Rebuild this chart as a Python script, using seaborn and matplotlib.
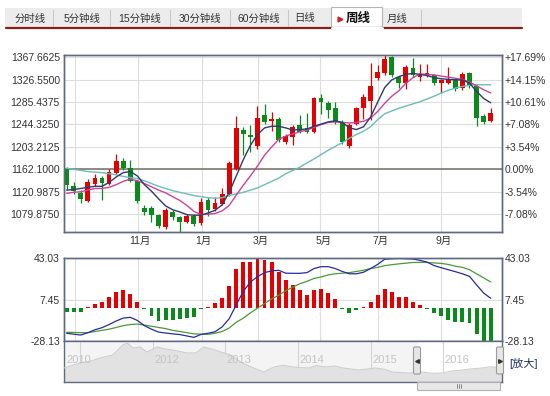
import numpy as np
import pandas as pd
import matplotlib.pyplot as plt
import matplotlib.patches as mpatches
import seaborn as sns

# weekly candles (index 0..60)
opens = [1162, 1131, 1119, 1104, 1136, 1147, 1135, 1156, 1178, 1164, 1141, 1091, 1091, 1078, 1057, 1084,
         1075, 1066, 1077, 1063, 1106, 1089, 1099, 1117, 1163, 1234, 1225, 1204, 1262, 1251, 1254, 1213,
         1221, 1243, 1237, 1231, 1292, 1284, 1274, 1249, 1204, 1246, 1274, 1288, 1329, 1338, 1368, 1332,
         1320, 1347, 1332, 1334, 1335, 1320, 1321, 1327, 1311, 1338, 1314, 1259, 1251]
closes = [1133, 1123, 1108, 1139, 1147, 1137, 1158, 1178, 1164, 1141, 1104, 1083, 1078, 1058, 1088, 1075,
          1066, 1077, 1062, 1103, 1088, 1100, 1117, 1174, 1237, 1227, 1221, 1256, 1249, 1254, 1215, 1223,
          1240, 1231, 1231, 1292, 1286, 1271, 1248, 1213, 1243, 1274, 1295, 1315, 1341, 1364, 1335, 1321,
          1349, 1335, 1337, 1339, 1320, 1325, 1327, 1309, 1337, 1315, 1256, 1249, 1265]
highs = [1166, 1138, 1124, 1145, 1154, 1150, 1162, 1190, 1182, 1180, 1143, 1096, 1094, 1081, 1092, 1088,
         1077, 1080, 1080, 1110, 1112, 1111, 1128, 1177, 1260, 1240, 1244, 1278, 1282, 1268, 1258, 1226,
         1244, 1262, 1265, 1294, 1301, 1287, 1285, 1252, 1247, 1277, 1300, 1357, 1354, 1371, 1370, 1334,
         1353, 1367, 1355, 1356, 1337, 1327, 1350, 1330, 1341, 1341, 1316, 1264, 1274]
lows = [1125, 1117, 1100, 1102, 1132, 1106, 1133, 1154, 1160, 1139, 1100, 1078, 1066, 1054, 1052, 1070,
        1048, 1064, 1058, 1060, 1077, 1085, 1096, 1114, 1160, 1189, 1193, 1200, 1246, 1232, 1212, 1208,
        1207, 1228, 1228, 1228, 1263, 1256, 1245, 1208, 1201, 1243, 1255, 1252, 1325, 1335, 1331, 1312,
        1310, 1332, 1324, 1331, 1317, 1302, 1318, 1306, 1307, 1312, 1241, 1246, 1249]
ma5 = [1124, 1125, 1127, 1129, 1131, 1131, 1138, 1148, 1156, 1158, 1150, 1134, 1122, 1108, 1095, 1088,
       1084, 1079, 1078, 1078, 1082, 1087, 1097, 1120, 1150, 1180, 1206, 1226, 1238, 1241, 1241, 1238,
       1234, 1235, 1236, 1241, 1245, 1249, 1251, 1248, 1238, 1235, 1240, 1258, 1285, 1312, 1326, 1332,
       1336, 1338, 1336, 1334, 1330, 1328, 1327, 1326, 1326, 1320, 1305, 1292, 1284]
ma10 = [1118, 1120, 1121, 1124, 1127, 1127, 1129, 1134, 1140, 1144, 1141, 1136, 1130, 1124, 1119, 1112,
        1105, 1096, 1085, 1079, 1080, 1081, 1086, 1096, 1115, 1133, 1150, 1168, 1188, 1203, 1217, 1223,
        1227, 1231, 1234, 1239, 1244, 1248, 1249, 1248, 1247, 1248, 1250, 1256, 1268, 1283, 1296, 1306,
        1320, 1330, 1337, 1336, 1335, 1333, 1331, 1329, 1327, 1322, 1315, 1308, 1302]
ma20 = [1164, 1162, 1160, 1158, 1157, 1156, 1154, 1152, 1149, 1147, 1145, 1141, 1136, 1131, 1127, 1123,
        1120, 1117, 1114, 1112, 1110, 1109, 1110, 1114, 1117, 1120, 1124, 1128, 1134, 1140, 1146, 1154,
        1160, 1166, 1174, 1181, 1189, 1197, 1204, 1211, 1219, 1226, 1232, 1240, 1253, 1264, 1269, 1274,
        1278, 1282, 1286, 1291, 1296, 1302, 1307, 1311, 1314, 1316, 1317, 1317, 1317]

# MACD panel
macd = [-3.4, -3.4, -3.4, 0.6, 3.4, 5.7, 10, 14.3, 15.2, 12, 5.7, -0.8, -6.3, -10.9, -10, -10,
        -9.4, -8.6, -7.7, -0.8, 0.8, 4.3, 9.1, 18.6, 33.4, 39.4, 40, 42.8, 41.4, 39.4, 30.9, 24.3,
        20, 15.7, 11.4, 15.7, 16.4, 13.4, 7.7, -1, -4.3, -1.5, 1, 5.1, 11.4, 16.3, 13.7, 10,
        9.4, 5.7, 2.9, -0.5, -4.3, -7.1, -10, -12, -12, -12.8, -21.9, -27.9, -27.9]
dif = [-21.5, -22.3, -23, -21, -18.5, -16.7, -14, -11, -8.5, -7.8, -10.5, -15, -18, -20.5, -21.3, -22,
       -22.6, -23.8, -25, -22.5, -21.5, -20.2, -16, -9, 3, 14.5, 22.5, 27, 30.5, 32, 32.5, 30,
       29.9, 29.9, 30.5, 34, 35.6, 35.6, 34, 31.5, 29.5, 29.5, 30.8, 34, 37.5, 42, 42.4, 42.6,
       42.4, 42.2, 41, 39.5, 36.5, 34.7, 33, 31.3, 29.5, 27.3, 20, 13, 8.5]
dea = [-20.7, -20.8, -21, -21, -20, -19, -18, -16.5, -15, -14, -13.6, -14.5, -15.5, -16.5, -17.5, -19,
       -20, -21, -22, -22.3, -22.4, -21.5, -20, -17, -12, -8.5, -4, 0, 4, 8, 11, 15,
       18, 21, 23, 25.5, 26.8, 28.5, 29.5, 30, 30.5, 31.5, 32.5, 34, 35, 36.5, 37.3, 38,
       38.6, 39.2, 39.3, 39.2, 38.8, 38.4, 37.5, 36, 35, 33, 29.5, 26, 22.5]

price_ticks = [1367.6625, 1326.55, 1285.4375, 1244.325, 1203.2125, 1162.1, 1120.9875, 1079.875]
pct_labels = ['+17.69%', '+14.15%', '+10.61%', '+7.08%', '+3.54%', '0.00%', '-3.54%', '-7.08%']
month_idx = [10, 19, 27, 36, 44, 53]
month_labels = ['11月', '1月', '3月', '5月', '7月', '9月']
grid_idx = [1.2, 10.1, 19.1, 27.1, 35.9, 44.1, 53]
macd_ticks = [43.03, 7.45, -28.13]

# navigator (year, price)
nav_year = [2010.78, 2011.0, 2011.15, 2011.28, 2011.45, 2011.59, 2011.65, 2011.73, 2011.83, 2011.92,
            2012.06, 2012.18, 2012.28, 2012.48, 2012.6, 2012.7, 2012.83, 2012.94, 2013.08, 2013.21,
            2013.39, 2013.53, 2013.67, 2013.8, 2013.93, 2014.15, 2014.25, 2014.39, 2014.5, 2014.62,
            2014.84, 2015.07, 2015.2, 2015.3, 2015.52, 2015.7, 2015.85, 2015.99, 2016.1, 2016.26,
            2016.4, 2016.54, 2016.65, 2016.81]
nav_price = [1192, 1333, 1390, 1475, 1560, 1842, 1899, 1758, 1786, 1644,
             1786, 1730, 1701, 1616, 1620, 1786, 1720, 1644, 1559, 1361,
             1192, 1078, 1220, 1270, 1220, 1192, 1260, 1220, 1250, 1192,
             1135, 1192, 1150, 1078, 1050, 1080, 1040, 1050, 1100, 1135,
             1170, 1192, 1230, 1192]
nav_years = [2011, 2012, 2013, 2014, 2015, 2016]
tabs = ['分时线', '5分钟线', '15分钟线', '30分钟线', '60分钟线', '日线', '周线', '月线']

sns.set_theme(style='white')
plt.rcParams['font.family'] = ['Liberation Sans', 'Noto Sans CJK SC', 'DejaVu Sans']

W, H = 550, 396
fig = plt.figure(figsize=(5.5, 3.96), dpi=100)
fig.patch.set_facecolor('white')


def px_axes(x0, y0, x1, y1):
    return fig.add_axes([x0 / W, 1 - y1 / H, (x1 - x0) / W, (y1 - y0) / H])


border = '#5d6a82'
red, green = '#e30000', '#0a8a1a'
txt = '#333333'
n = len(opens)
idx = np.arange(n)
XL = (-0.38, 61.6)

# ---- main candle panel
ax = px_axes(64, 55, 502, 232)
ax.set_xlim(*XL)
ax.set_ylim(1047.2, 1371.6)
for t in price_ticks:
    ax.axhline(t, color='#dedede', lw=0.8, zorder=0)
for g in grid_idx:
    ax.axvline(g, color='#dedede', lw=0.8, zorder=0)
ax.axhline(1162.1, color='#7a7a6a', lw=1.2, zorder=1)

o, c = np.array(opens), np.array(closes)
up = c >= o
cols = np.where(up, red, green)
ax.vlines(idx, lows, highs, colors=cols, lw=0.9, zorder=2)
body = np.where(np.abs(c - o) < 2, 2, c - o)
ax.bar(idx, body, bottom=o, width=0.68, color=cols, zorder=3, linewidth=0)

df = pd.DataFrame({'i': idx, 'ma5': ma5, 'ma10': ma10, 'ma20': ma20})
sns.lineplot(data=df, x='i', y='ma20', ax=ax, color='#6cbcbc', lw=1.0, zorder=4)
sns.lineplot(data=df, x='i', y='ma10', ax=ax, color='#c8449a', lw=1.0, zorder=4)
sns.lineplot(data=df, x='i', y='ma5', ax=ax, color='#2e3a6e', lw=1.0, zorder=4)

ax.set_yticks(price_ticks)
ax.set_yticklabels(['%.4f' % t for t in price_ticks], fontsize=7.5, color=txt)
ax.set_xticks([m + 0.4 for m in month_idx])
ax.set_xticklabels(month_labels, fontsize=7.5, color=txt)
ax.tick_params(length=0, pad=3)
ax.set_xlabel('')
ax.set_ylabel('')
axr = ax.twinx()
axr.set_ylim(ax.get_ylim())
axr.set_yticks(price_ticks)
axr.set_yticklabels(pct_labels, fontsize=7.5, color=txt)
axr.tick_params(length=0, pad=2)
for a in (ax, axr):
    for s in a.spines.values():
        s.set_color(border)
        s.set_linewidth(1.0)

# ---- MACD panel
am = px_axes(64, 258, 502, 341)
am.set_xlim(*XL)
am.set_ylim(-28.13, 43.03)
am.axhline(7.45, color='#dedede', lw=0.8, zorder=0)
for g in grid_idx:
    am.axvline(g, color='#dedede', lw=0.8, zorder=0)
mv = np.array(macd)
am.bar(idx, mv, width=0.55, color=np.where(mv >= 0, red, green), zorder=2, linewidth=0)
dm = pd.DataFrame({'i': idx, 'dif': dif, 'dea': dea})
sns.lineplot(data=dm, x='i', y='dea', ax=am, color='#4a9a3a', lw=0.9, zorder=3)
sns.lineplot(data=dm, x='i', y='dif', ax=am, color='#2a2aa0', lw=0.9, zorder=3)
am.set_xticks([])
am.set_yticks(macd_ticks)
am.set_yticklabels(['%.2f' % t for t in macd_ticks], fontsize=7.5, color=txt)
am.tick_params(length=0, pad=3)
am.set_xlabel('')
am.set_ylabel('')
amr = am.twinx()
amr.set_ylim(am.get_ylim())
amr.set_yticks(macd_ticks)
amr.set_yticklabels(['%.2f' % t for t in macd_ticks], fontsize=7.5, color=txt)
amr.tick_params(length=0, pad=2)
for a in (am, amr):
    for s in a.spines.values():
        s.set_color(border)
        s.set_linewidth(1.0)

# ---- navigator
an = px_axes(64, 341, 502, 382)
an.set_xlim(2010.78, 2016.81)
an.set_ylim(795, 1957)
an.axvspan(2010.78, 2015.64, color='#f4f4f4', zorder=0)
for y in nav_years:
    an.axvline(y, color='#d4d4d4', lw=0.8, zorder=1)
an.fill_between(nav_year, nav_price, 795, color='#e2e2e2', zorder=2, lw=0)
an.plot(nav_year, nav_price, color='#cfcfcf', lw=0.8, zorder=3)
an.text(2010.81, 1430, '2010', fontsize=8, color='#c4c4c4', va='center', zorder=4)
for y in nav_years[1:]:
    an.text(y + 0.02, 1430, str(y), fontsize=8, color='#c4c4c4', va='center', zorder=4)
an.set_xticks([])
an.set_yticks([])
for s in an.spines.values():
    s.set_color(border)
    s.set_linewidth(1.0)

# ---- overlay decorations (tabs, handles, scrollbar)
ov = fig.add_axes([0, 0, 1, 1], zorder=10)
ov.set_xlim(0, W)
ov.set_ylim(H, 0)
ov.axis('off')
ov.patch.set_alpha(0)
ov.add_patch(mpatches.Rectangle((5, 8), 517, 19.5, color='#ececec', lw=0))
ov.plot([6, 522], [27.6, 27.6], color='#8a1c1c', lw=1.6)
ov.add_patch(mpatches.Rectangle((331, 7), 51, 22, facecolor='white', edgecolor='#b5b5b5', lw=0.8))
ov.plot([331.5, 381.5], [28.2, 28.2], color='white', lw=2.2)
tab_x = [30, 82, 140, 200, 259, 305, 358, 397]
for sx in [53, 110, 170, 230, 288, 421]:
    ov.plot([sx, sx], [10, 26], color='#c8c8c8', lw=0.8)
for t, x in zip(tabs, tab_x):
    if t == '周线':
        ov.text(x, 18.5, t, fontsize=9, fontweight='bold', color='#111111', ha='center', va='center')
    else:
        ov.text(x, 18.5, t, fontsize=7.5, color='#333333', ha='center', va='center')
ov.plot([340], [18.5], marker='>', ms=3.5, color='#cc2222', lw=0)

for hx, mk in [(417, '<'), (500, '>')]:
    ov.add_patch(mpatches.FancyBboxPatch((hx - 3.5, 347), 7, 27, boxstyle='round,pad=0,rounding_size=1.5',
                                         facecolor='#e6e6e6', edgecolor='#9a9a9a', lw=0.8))
    ov.plot([hx], [360.5], marker=mk, ms=2.6, color='#333333', lw=0)
ov.add_patch(mpatches.Rectangle((417, 382), 83, 8, facecolor='#e8e8e8', edgecolor='#b0b0b0', lw=0.8))
for gx in [456.5, 458.5, 460.5]:
    ov.plot([gx, gx], [384, 388], color='#777777', lw=0.6)
ov.text(524, 363, '[放大]', fontsize=8, color='#23327a', ha='center', va='center')

fig.savefig('out.png', dpi=100)
